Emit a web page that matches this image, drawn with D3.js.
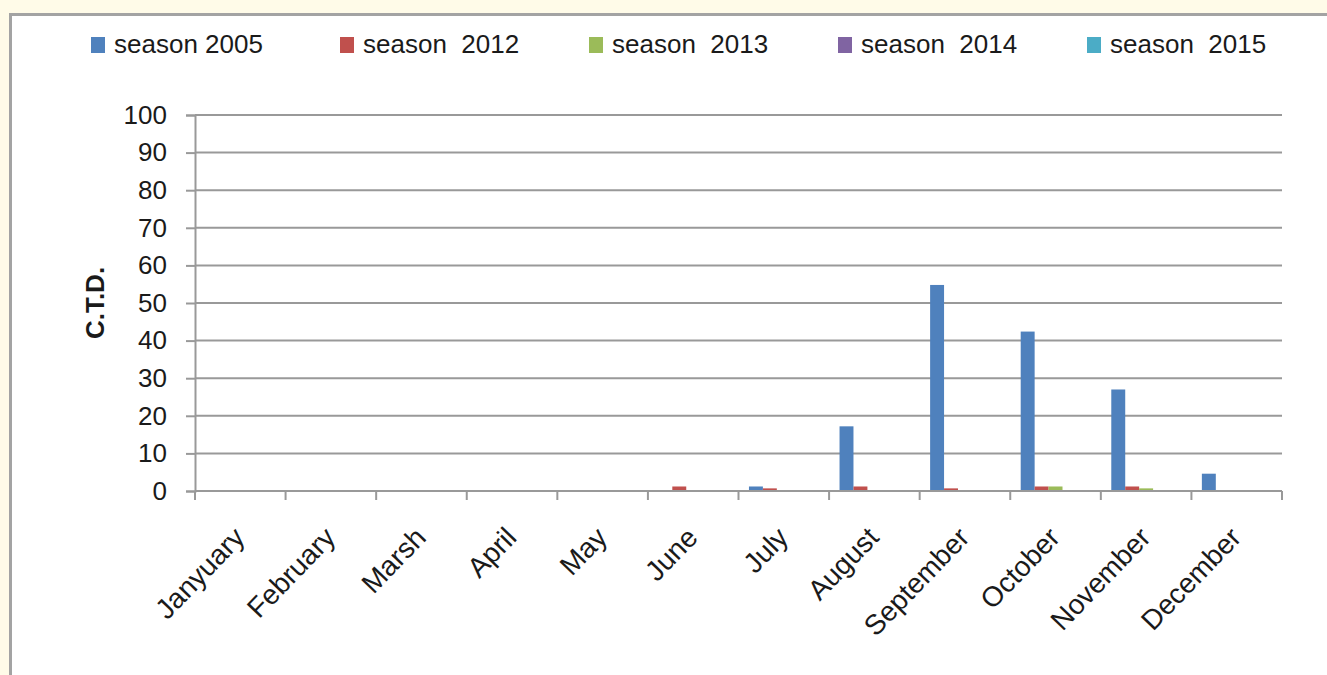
<!DOCTYPE html>
<html>
<head>
<meta charset="utf-8">
<script src="https://cdn.jsdelivr.net/npm/d3@7"></script>
<style>
  html, body { margin: 0; padding: 0; background: #fffbe8; }
  svg { display: block; }
  text { font-family: "Liberation Sans", Arial, sans-serif; fill: #1a1a1a; }
</style>
</head>
<body>
<svg id="chart" width="1327" height="675"></svg>
<script>
const months = ["Janyuary","February","Marsh","April","May","June","July","August","September","October","November","December"];
const seriesNames = ["season 2005","season  2012","season  2013","season  2014","season  2015"];
const s2005 = [0,0,0,0,0,0,1.2,17.2,54.8,42.4,27.0,4.6];
const s2012 = [0,0,0,0,0,1.2,0.7,1.2,0.7,1.2,1.2,0];
const s2013 = [0,0,0,0,0,0,0,0,0,1.2,0.7,0];
const s2014 = [0,0,0,0,0,0,0,0,0,0,0,0];
const s2015 = [0,0,0,0,0,0,0,0,0,0,0,0];
const yTicks = [0,10,20,30,40,50,60,70,80,90,100];
const colors = ["#4f81bd","#c0504d","#9bbb59","#8064a2","#4bacc6"];

const seriesValues = [s2005, s2012, s2013, s2014, s2015];

const svg = d3.select("#chart");

// outer frame
svg.append("rect").attr("x", 0).attr("y", 0).attr("width", 1327).attr("height", 675).attr("fill", "#fffbe8");
svg.append("rect").attr("x", 10.5).attr("y", 14.5).attr("width", 1330).attr("height", 680)
  .attr("fill", "#ffffff").attr("stroke", "#a3a3a3").attr("stroke-width", 3);

const pLeft = 195, pRight = 1282, pTop = 115, pBottom = 491;

const x0 = d3.scaleBand().domain(months).range([pLeft, pRight]).paddingInner(0).paddingOuter(0);
const bw = x0.bandwidth();
const w = bw / 6.5;
const x1 = d3.scaleBand().domain(d3.range(5)).range([0.75 * w, 5.75 * w]).padding(0);
const y = d3.scaleLinear().domain([0, 100]).range([pBottom, pTop]);

// gridlines
svg.append("g").selectAll("line").data(yTicks.filter(d => d > 0)).join("line")
  .attr("x1", pLeft).attr("x2", pRight)
  .attr("y1", d => y(d)).attr("y2", d => y(d))
  .attr("stroke", "#999999").attr("stroke-width", 2);

// bars
const g = svg.append("g");
seriesValues.forEach((vals, si) => {
  g.append("g").selectAll("rect").data(vals.map((v, i) => ({m: months[i], v})).filter(d => d.v > 0)).join("rect")
    .attr("x", d => x0(d.m) + x1(si))
    .attr("width", x1.bandwidth())
    .attr("y", d => y(d.v))
    .attr("height", d => y(0) - y(d.v))
    .attr("fill", colors[si]);
});

// y axis
const yAxis = d3.axisLeft(y).tickValues(yTicks).tickSize(9).tickPadding(19);
const ya = svg.append("g").attr("transform", `translate(${pLeft},0)`).call(yAxis);
ya.select(".domain").attr("stroke", "#999999").attr("stroke-width", 2);
ya.selectAll(".tick line").attr("stroke", "#999999").attr("stroke-width", 2);
ya.selectAll(".tick text").style("font-size", "26px").attr("fill", "#1a1a1a")
  .style("font-family", "'Liberation Sans', Arial, sans-serif");

// x axis baseline + ticks at category boundaries
const boundaries = months.map(m => x0(m)).concat([pRight]);
svg.append("line").attr("x1", pLeft).attr("x2", pRight).attr("y1", y(0)).attr("y2", y(0))
  .attr("stroke", "#999999").attr("stroke-width", 2);
svg.append("g").selectAll("line").data(boundaries).join("line")
  .attr("x1", d => d).attr("x2", d => d).attr("y1", y(0)).attr("y2", y(0) + 9)
  .attr("stroke", "#999999").attr("stroke-width", 2);

// x labels rotated
svg.append("g").selectAll("text").data(months).join("text")
  .attr("transform", d => `translate(${x0(d) + bw / 2 + 6},${y(0) + 48}) rotate(-46)`)
  .attr("text-anchor", "end")
  .style("font-size", "28px")
  .text(d => d);

// y title
svg.append("text")
  .attr("transform", `translate(104,303) rotate(-90)`)
  .attr("text-anchor", "middle")
  .style("font-size", "26px").style("font-weight", "bold")
  .text("C.T.D.");

// legend
const lg = svg.append("g");
seriesNames.forEach((name, i) => {
  const lx = 91 + i * 249;
  lg.append("rect").attr("x", lx).attr("y", 37).attr("width", 14).attr("height", 16).attr("fill", colors[i]);
  lg.append("text").attr("x", lx + 23).attr("y", 53).style("font-size", "26px").attr("xml:space", "preserve")
    .style("white-space", "pre").text(name);
});
</script>
</body>
</html>
